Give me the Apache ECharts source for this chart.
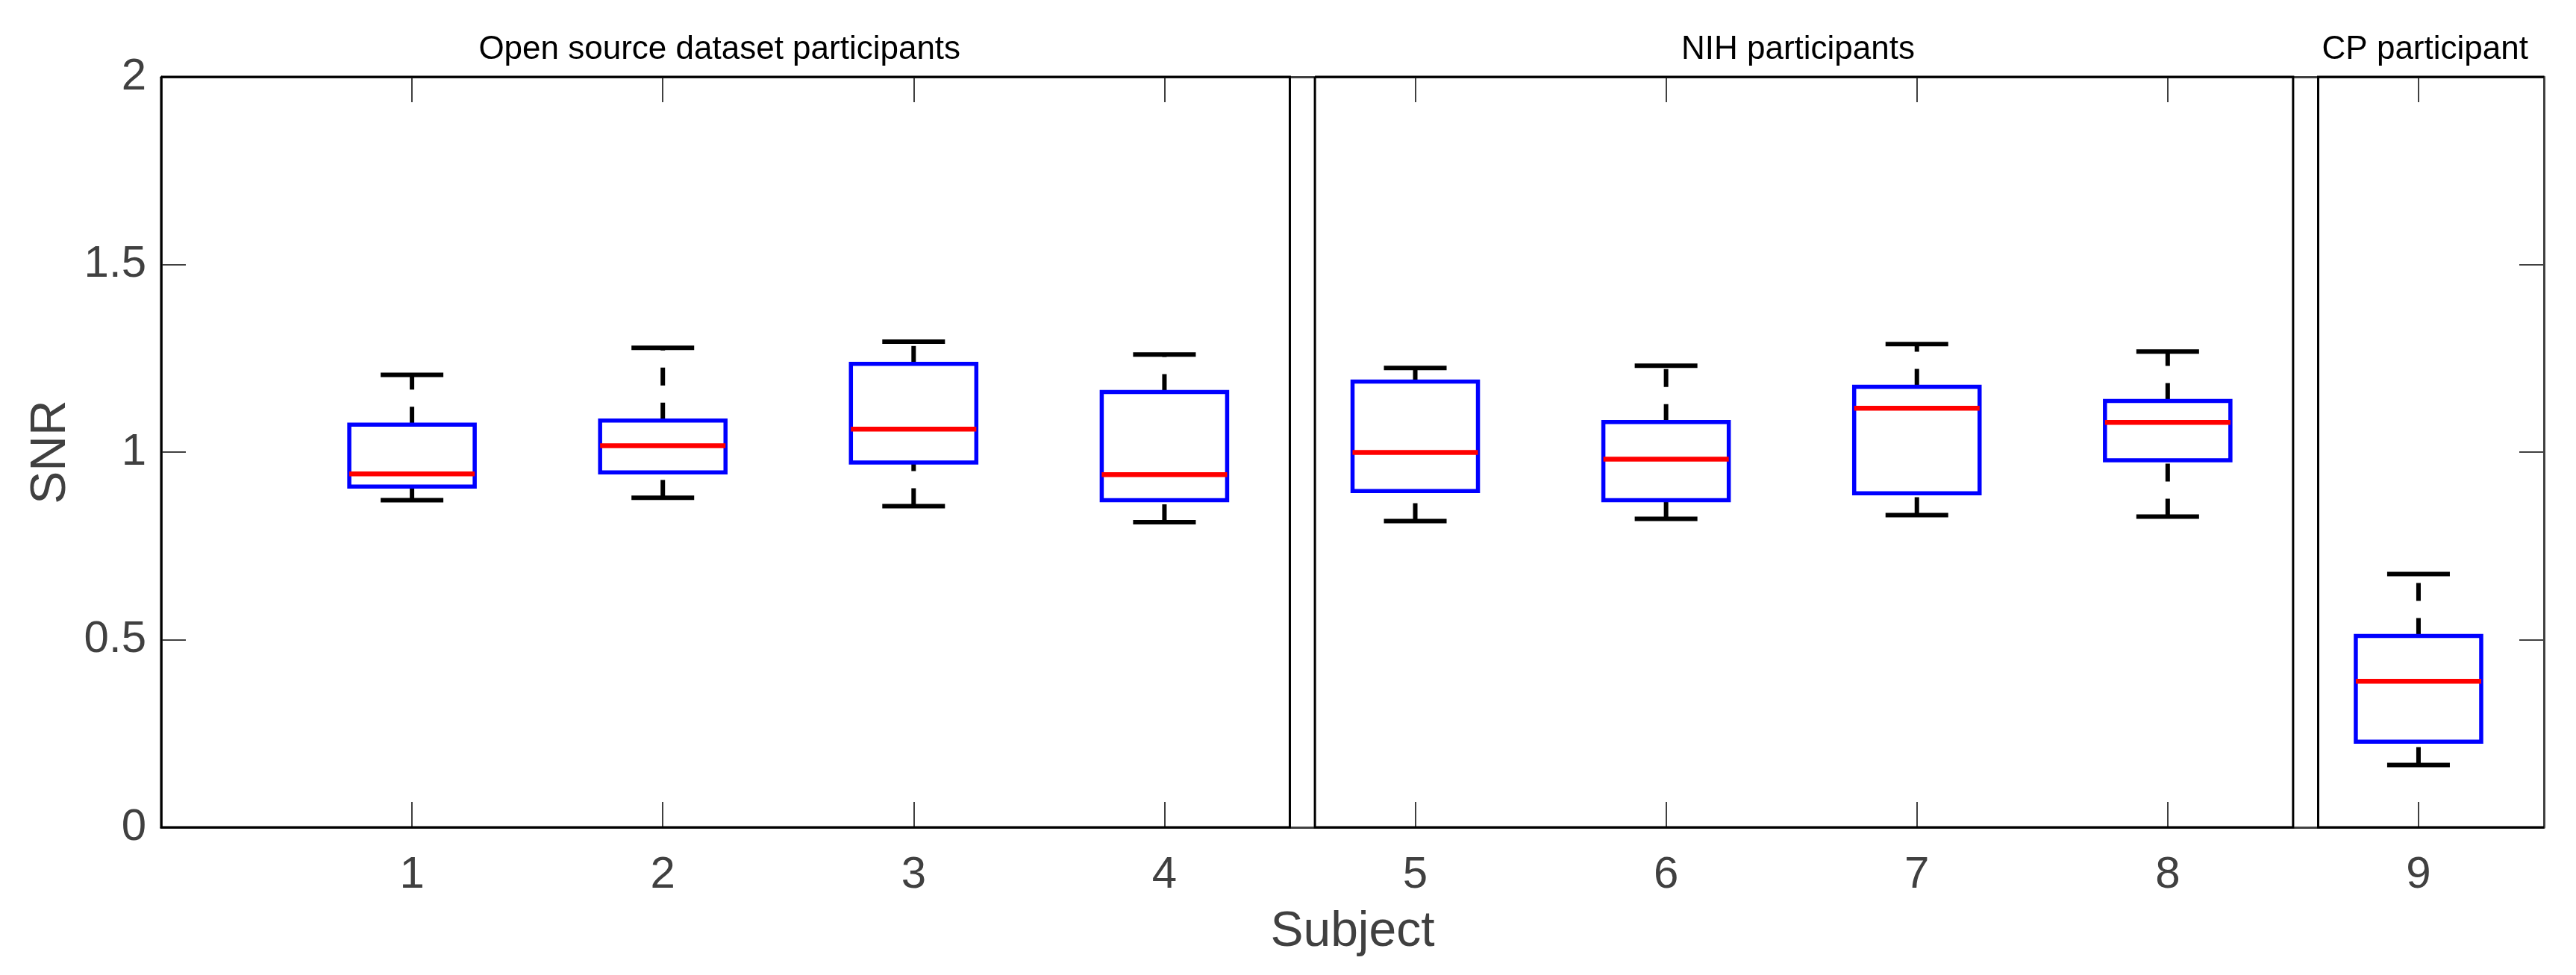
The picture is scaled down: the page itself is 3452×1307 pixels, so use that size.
<!DOCTYPE html>
<html><head><meta charset="utf-8">
<script src="https://cdn.jsdelivr.net/npm/echarts@6/dist/echarts.min.js"></script>
<style>html,body{margin:0;padding:0;background:#fff}#c{width:3452px;height:1307px}</style>
</head><body><div id="c"></div>
<script>
// ---- data ----
const subjects = [1, 2, 3, 4, 5, 6, 7, 8, 9];
const lowerWhisker = [0.872, 0.878, 0.856, 0.813, 0.816, 0.822, 0.832, 0.828, 0.166];
const q1 = [0.908, 0.946, 0.972, 0.872, 0.896, 0.872, 0.890, 0.978, 0.228];
const medians = [0.942, 1.017, 1.061, 0.940, 0.999, 0.981, 1.117, 1.079, 0.389];
const q3 = [1.073, 1.084, 1.235, 1.160, 1.188, 1.080, 1.174, 1.136, 0.510];
const upperWhisker = [1.206, 1.278, 1.294, 1.260, 1.224, 1.230, 1.288, 1.268, 0.675];
const panelNames = ['Open source dataset participants', 'NIH participants', 'CP participant'];
const panelStart = [0, 4.6, 8.6];
const panelEnd = [4.5, 8.5, 9.5];
const xTickValues = [1, 2, 3, 4, 5, 6, 7, 8, 9];

const FONT = '"Liberation Sans", Arial, Helvetica, sans-serif';
const AX = '#404040';

const boxData = subjects.map((s, i) => [s, lowerWhisker[i], q1[i], medians[i], q3[i], upperWhisker[i]]);
const panelData = panelNames.map((n, i) => [panelStart[i], panelEnd[i], i]);

function renderBox(params, api) {
  const x = api.value(0);
  const lo = api.coord([x, api.value(1)]);
  const b1 = api.coord([x - 0.25, api.value(2)]);
  const b3 = api.coord([x + 0.25, api.value(4)]);
  const md1 = api.coord([x - 0.25, api.value(3)]);
  const md2 = api.coord([x + 0.25, api.value(3)]);
  const up = api.coord([x, api.value(5)]);
  const cL = api.coord([x - 0.125, 0])[0];
  const cR = api.coord([x + 0.125, 0])[0];
  const cx = lo[0];
  const wStyle = { stroke: '#000', lineWidth: 6, lineDash: [24, 23], lineCap: 'butt' };
  return {
    type: 'group',
    children: [
      { type: 'line', shape: { x1: cx, y1: b3[1], x2: cx, y2: up[1] }, style: wStyle },
      { type: 'line', shape: { x1: cx, y1: lo[1], x2: cx, y2: b1[1] }, style: wStyle },
      { type: 'line', shape: { x1: cL, y1: up[1], x2: cR, y2: up[1] }, style: { stroke: '#000', lineWidth: 6 } },
      { type: 'line', shape: { x1: cL, y1: lo[1], x2: cR, y2: lo[1] }, style: { stroke: '#000', lineWidth: 6 } },
      { type: 'rect', shape: { x: b1[0], y: b3[1], width: b3[0] - b1[0], height: b1[1] - b3[1] },
        style: { fill: 'none', stroke: '#0000ff', lineWidth: 5.5 } },
      { type: 'line', shape: { x1: md1[0], y1: md1[1], x2: md2[0], y2: md2[1] }, style: { stroke: '#ff0000', lineWidth: 6.5 } }
    ]
  };
}

function renderPanel(params, api) {
  const x1 = api.value(0), x2 = api.value(1), idx = api.value(2);
  const tl = api.coord([x1, 2]);
  const br = api.coord([x2, 0]);
  const last = idx === panelNames.length - 1;
  const pts = last
    ? [[br[0], tl[1]], [tl[0], tl[1]], [tl[0], br[1]], [br[0], br[1]]]
    : [[tl[0], tl[1]], [br[0], tl[1]], [br[0], br[1]], [tl[0], br[1]], [tl[0], tl[1]]];
  return {
    type: 'group',
    children: [
      { type: 'polyline', shape: { points: pts }, style: { stroke: '#000', lineWidth: 3, fill: 'none' } },
      { type: 'text', x: (tl[0] + br[0]) / 2 - 8, y: tl[1] - 36,
        style: { text: panelNames[idx], fill: '#000', fontSize: 44, fontFamily: FONT, align: 'center', verticalAlign: 'middle' } }
    ]
  };
}

const chart = echarts.init(document.getElementById('c'), null, { renderer: 'canvas' });
const baseX = {
  type: 'value', min: 0, max: 9.5, interval: 1,
  splitLine: { show: false },
  axisLine: { show: true, onZero: false, lineStyle: { color: AX, width: 3 } },
  axisTick: { show: true, inside: true, length: 34, customValues: xTickValues, lineStyle: { color: AX, width: 2 } }
};
const baseY = {
  type: 'value', min: 0, max: 2, interval: 0.5,
  splitLine: { show: false },
  axisLine: { show: true, onZero: false, lineStyle: { color: AX, width: 3 } },
  axisTick: { show: true, inside: true, length: 33, lineStyle: { color: AX, width: 2 } }
};
chart.setOption({
  animation: false,
  backgroundColor: '#fff',
  grid: { left: 216, right: 43, top: 103, bottom: 198, containLabel: false },
  xAxis: [
    Object.assign({}, baseX, {
      position: 'bottom',
      name: 'Subject', nameLocation: 'middle', nameGap: 108,
      nameTextStyle: { color: AX, fontSize: 66, fontFamily: FONT },
      axisLabel: { show: true, customValues: xTickValues, margin: 34, color: AX, fontSize: 60, fontFamily: FONT }
    }),
    Object.assign({}, baseX, { position: 'top', axisLabel: { show: false } })
  ],
  yAxis: [
    Object.assign({}, baseY, {
      position: 'left',
      name: 'SNR', nameLocation: 'middle', nameGap: 112, nameRotate: 90,
      nameTextStyle: { color: AX, fontSize: 66, fontFamily: FONT },
      axisLabel: { show: true, margin: 20, color: AX, fontSize: 60, fontFamily: FONT }
    }),
    Object.assign({}, baseY, { position: 'right', axisLabel: { show: false } })
  ],
  series: [
    { type: 'custom', name: 'panels', xAxisIndex: 0, yAxisIndex: 0, data: panelData, renderItem: renderPanel, z: 5, silent: true },
    { type: 'custom', name: 'boxes', xAxisIndex: 0, yAxisIndex: 0, data: boxData, renderItem: renderBox, z: 10, silent: true }
  ]
});
</script></body></html>
